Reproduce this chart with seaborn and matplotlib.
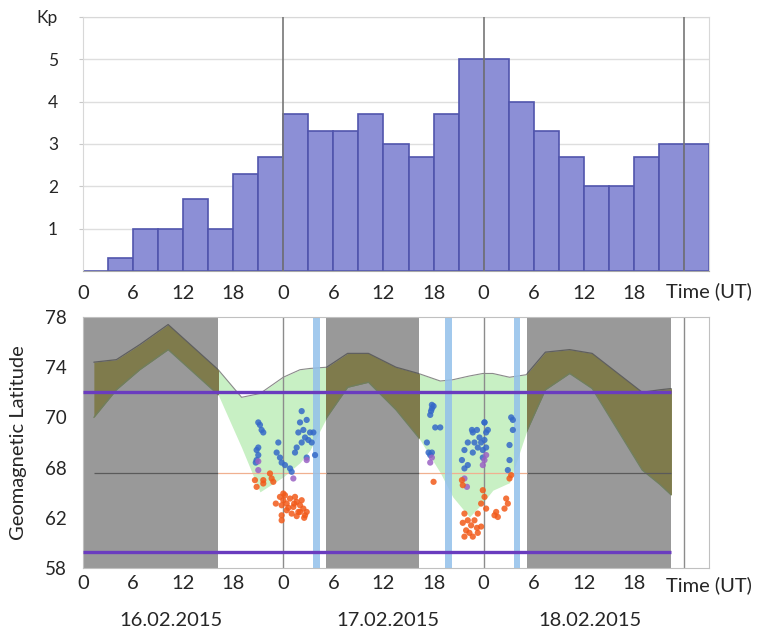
import numpy as np
import pandas as pd
import matplotlib
matplotlib.use("Agg")
import matplotlib.pyplot as plt
import seaborn as sns

# ---------------- data ----------------
kp_start_hours = list(range(0, 75, 3))
kp_values = [0.0, 0.3, 1.0, 1.0, 1.7, 1.0, 2.3, 2.7, 3.7, 3.3, 3.3, 3.7, 3.0,
             2.7, 3.7, 5.0, 5.0, 4.0, 3.3, 2.7, 2.0, 2.0, 2.7, 3.0, 3.0]

tick_hours = [0, 6, 12, 18, 24, 30, 36, 42, 48, 54, 60, 66]
tick_labels = ["0", "6", "12", "18", "0", "6", "12", "18", "0", "6", "12", "18"]
day_lines = [24, 48, 72]
date_labels = ["16.02.2015", "17.02.2015", "18.02.2015"]
date_hours = [10.5, 36.5, 60.8]

lat_ticks = [58, 62, 68, 70, 74, 78]

night_spans = [(0.0, 16.2), (29.1, 40.2), (53.2, 70.5)]
blue_band_hours = [28.0, 43.8, 52.0]
purple_levels = [72.0, 59.3]
ref_level = 67.3

band_hours = [1.3, 4.0, 6.8, 10.2, 16.2, 19.0, 21.2, 24.0, 26.0, 27.2, 29.2, 31.7, 34.2, 37.5,
              40.2, 42.8, 44.3, 46.3, 47.9, 49.1, 51.1, 53.1, 55.4, 58.3, 61.0, 67.0, 69.1, 70.5]
band_upper = [74.4, 74.6, 75.8, 77.4, 73.8, 71.6, 71.9, 73.2, 73.8, 73.9, 74.0, 75.1, 75.1, 74.0,
              73.5, 72.9, 73.0, 73.3, 73.5, 73.5, 73.2, 73.4, 75.2, 75.4, 75.1, 72.0, 72.2, 72.3]
band_lower = [70.0, 72.2, 73.8, 75.4, 71.8, 68.8, 65.1, 66.9, 68.2, 68.7, 70.0, 72.4, 72.8, 70.6,
              69.2, 67.4, 64.5, 62.1, 63.8, 65.3, 66.2, 69.4, 72.2, 73.5, 72.3, 67.7, 66.0, 64.7]

blue_hours = [21.0, 21.2, 21.4, 21.6, 20.8, 21.0, 20.8, 20.7, 21.0, 23.4, 23.2, 23.6, 23.8, 24.2,
              24.8, 25.0, 26.2, 26.0, 26.8, 26.4, 27.2, 25.8, 26.6, 27.0, 26.2, 27.4, 25.6, 25.4,
              26.8, 27.6, 27.8,
              41.8, 41.8, 41.7, 41.6, 42.0, 42.2, 42.8, 41.2, 41.4, 41.8, 41.6,
              45.4, 45.7, 46.1, 46.6, 46.7, 46.9, 47.2, 47.5, 47.7, 47.9, 48.1, 48.3, 48.5, 47.9,
              45.7, 46.1, 46.7, 47.3, 48.1, 48.3, 48.1,
              51.3, 51.5, 51.5, 51.1, 51.1, 50.9]
blue_lats = [69.8, 69.7, 69.5, 69.4, 68.7, 68.5, 68.3, 68.2, 68.8, 69.0, 68.6, 68.4, 68.2, 68.1,
             67.9, 67.5, 70.5, 69.8, 69.9, 69.5, 69.4, 69.4, 69.2, 69.1, 69.0, 69.0, 68.8, 68.6,
             68.4, 69.4, 68.5,
             71.0, 70.7, 70.5, 70.2, 70.9, 69.6, 69.6, 69.0, 68.6, 68.6, 68.5,
             68.3, 68.7, 69.0, 69.5, 69.4, 69.0, 69.5, 69.2, 69.0, 68.7, 69.8, 69.4, 69.5, 68.4,
             67.9, 68.1, 68.6, 68.8, 69.1, 68.8, 69.8,
             70.0, 69.9, 69.5, 68.9, 68.3, 67.7]

purple_hours = [21.0, 21.0, 25.2, 26.8, 41.8, 41.6, 45.7, 46.0, 48.1, 48.3, 47.9]
purple_lats = [68.25, 67.7, 66.7, 68.3, 68.4, 68.2, 66.7, 65.7, 68.3, 68.5, 68.1]

orange_hours = [20.6, 20.8, 21.6, 21.6, 22.4, 22.6, 22.8,
                23.6, 24.0, 23.8, 24.4, 24.8, 25.2, 25.6, 26.0, 26.4, 25.8, 26.6, 24.4, 23.8,
                25.0, 26.2, 26.8, 24.2, 25.4, 23.8, 26.5, 24.0, 25.3, 24.6, 26.0, 23.1, 25.6,
                42.0, 45.4, 45.5, 47.9, 48.1, 47.7, 48.3, 51.3, 51.1, 50.7, 50.9, 50.5, 49.5,
                49.7, 49.3,
                45.7, 46.1, 45.5, 46.5, 46.9, 47.2, 45.9, 46.3, 47.3, 45.7, 46.7, 47.7, 47.3]
orange_lats = [66.5, 65.7, 66.5, 66.1, 67.3, 66.7, 66.3,
               64.5, 64.1, 63.5, 63.7, 64.3, 63.3, 63.9, 63.5, 63.1, 62.7, 62.3, 62.9, 62.3,
               62.5, 64.1, 62.7, 64.7, 64.5, 61.8, 62.0, 64.9, 63.7, 63.2, 62.7, 63.7, 62.2,
               66.3, 66.5, 65.9, 65.3, 64.5, 63.7, 63.1, 67.1, 66.7, 64.3, 63.7, 63.1, 62.7,
               62.1, 62.3,
               62.5, 61.8, 61.6, 61.4, 61.8, 61.2, 61.0, 60.8, 60.8, 60.5, 60.5, 61.3, 62.5]

# ---------------- style ----------------
sns.set_style("white")
plt.rcParams["font.family"] = ["Lato", "DejaVu Sans"]
TXT = "#262626"

fig = plt.figure(figsize=(7.64, 6.31), dpi=100)
W, H = 764, 631
ax1 = fig.add_axes([83 / W, 1 - 271 / H, 626 / W, 254 / H])
ax2 = fig.add_axes([83 / W, 1 - 568 / H, 626 / W, 251 / H])

# ---------------- top: Kp ----------------
kp_df = pd.DataFrame({"mid": [h + 1.5 for h in kp_start_hours], "kp": kp_values})
sns.histplot(data=kp_df, x="mid", weights="kp", bins=list(range(0, 78, 3)),
             color="#8c8fd6", edgecolor="#5155ad", linewidth=1.2, alpha=1.0, ax=ax1, zorder=2)
ax1.set_xlim(0, 75)
ax1.set_ylim(0, 6)
ax1.set_yticks([1, 2, 3, 4, 5, 6])
ax1.set_yticklabels(["1", "2", "3", "4", "5", "Kp"], fontsize=12.5, color=TXT)
ax1.set_xticks(tick_hours)
ax1.set_xticklabels(tick_labels, fontsize=14.5, color=TXT)
ax1.grid(axis="y", color="#dedede", lw=1, zorder=0)
ax1.set_axisbelow(True)
for h in day_lines:
    ax1.axvline(h, color="#777777", lw=1.2, zorder=3)
for s in ["top", "right", "left"]:
    ax1.spines[s].set_color("#d8d8d8")
ax1.spines["bottom"].set_color("#a8a8a8")
ax1.tick_params(axis="y", length=3, color="#c8c8c8", pad=15, left=True)
ax1.tick_params(axis="x", length=0, pad=10)
ax1.set_xlabel("")
ax1.set_ylabel("")
ax1.text(69.8, -0.08, "Time (UT)", transform=ax1.get_xaxis_transform(),
         ha="left", va="center", fontsize=14.5, color=TXT)

# ---------------- bottom: latitude ----------------
lat_pos = np.arange(len(lat_ticks), dtype=float)


def fwd(v):
    return np.interp(v, lat_ticks, lat_pos)


def inv(v):
    return np.interp(v, lat_pos, lat_ticks)


ax2.set_yscale("function", functions=(fwd, inv))
ax2.set_xlim(0, 75)
ax2.set_ylim(58, 78)

# light green band everywhere (covered by night spans later)
ax2.fill_between(band_hours, band_lower, band_upper, color="#c8f0c4", lw=0, zorder=0.6)
ax2.plot(band_hours, band_upper, color="#8a8a8a", lw=0.8, zorder=0.65)

for a, b in night_spans:
    rect = ax2.axvspan(a, b, color="#999999", lw=0, zorder=0.7)
    olive = ax2.fill_between(band_hours, band_lower, band_upper, color="#7f7b4c", lw=0, zorder=0.8)
    olive.set_clip_path(rect)
    for arr, col in [(band_upper, "#5f5f5f"), (band_lower, "#6f7f5f")]:
        ln, = ax2.plot(band_hours, arr, color=col, lw=0.9, zorder=0.85)
        ln.set_clip_path(rect)

# thin reference line
for a, b in night_spans:
    ax2.hlines(ref_level, max(a, band_hours[0]), b, color="#5a5a5a", lw=0.9, zorder=0.9)
for (a1, b1), (a2, b2) in zip(night_spans[:-1], night_spans[1:]):
    ax2.hlines(ref_level, b1, a2, color="#f0b090", lw=0.9, zorder=0.9)

for c in blue_band_hours:
    ax2.axvspan(c - 0.4, c + 0.4, color="#92c0ea", alpha=0.85, lw=0, zorder=1.5)

for h in day_lines:
    ax2.axvline(h, color="#8c8c8c", lw=1.0, zorder=1.2)

ax2.hlines(purple_levels, 0, night_spans[-1][1], color="#6a3cbf", lw=2.4, zorder=3)

pts = pd.DataFrame({
    "hour": blue_hours + purple_hours + orange_hours,
    "lat": blue_lats + purple_lats + orange_lats,
    "kind": ["blue"] * len(blue_hours) + ["purple"] * len(purple_hours) + ["orange"] * len(orange_hours),
})
sns.scatterplot(data=pts, x="hour", y="lat", hue="kind",
                palette={"blue": "#3569c8", "purple": "#9a62c4", "orange": "#f25a1a"},
                s=20, alpha=0.85, linewidth=0, legend=False, ax=ax2, zorder=4)

ax2.set_yticks(lat_ticks)
ax2.set_yticklabels([str(v) for v in lat_ticks], fontsize=13.5, color=TXT)
ax2.yaxis.set_minor_locator(matplotlib.ticker.NullLocator())
ax2.set_xticks(tick_hours)
ax2.set_xticklabels(tick_labels, fontsize=14.5, color=TXT)
ax2.tick_params(axis="both", length=0)
ax2.tick_params(axis="y", pad=12)
ax2.tick_params(axis="x", pad=5)
for s in ax2.spines.values():
    s.set_color("#c0c0c0")
ax2.set_xlabel("")
ax2.set_ylabel("Geomagnetic Latitude", fontsize=14.5, color=TXT)
ax2.yaxis.set_label_coords(-0.09, 0.5)
ax2.text(69.8, -0.068, "Time (UT)", transform=ax2.get_xaxis_transform(),
         ha="left", va="center", fontsize=14.5, color=TXT)

for lbl, h in zip(date_labels, date_hours):
    ax2.text(h, -0.21, lbl, transform=ax2.get_xaxis_transform(),
             ha="center", va="center", fontsize=14.5, color=TXT)

fig.savefig("out.png", dpi=100)
